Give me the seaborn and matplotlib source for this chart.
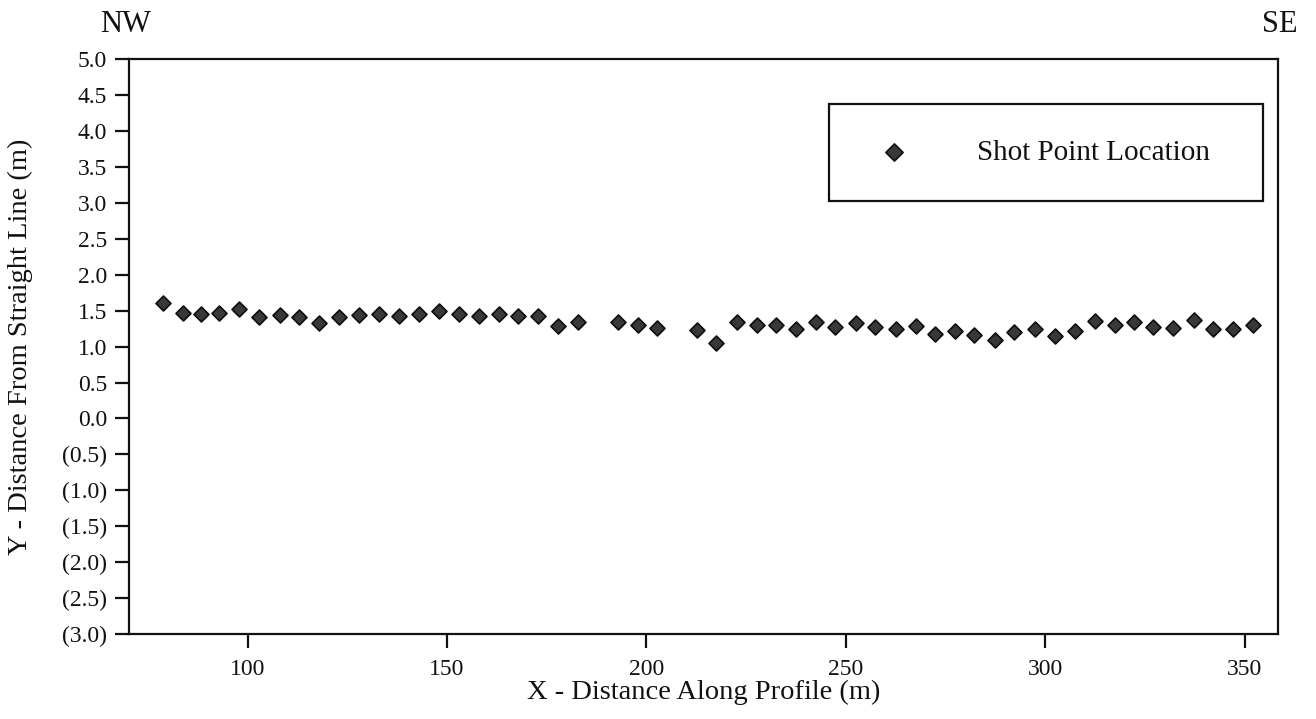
import numpy as np
import pandas as pd
import matplotlib
matplotlib.use("Agg")
import matplotlib.pyplot as plt
from matplotlib.ticker import FuncFormatter, FixedLocator
import seaborn as sns

# ---- data ----
x_dist = [78.8, 83.7, 88.3, 92.8, 97.8, 102.9, 108.1, 112.9, 117.9, 122.8,
          127.8, 132.9, 137.9, 143.0, 148.1, 153.0, 157.9, 162.9, 167.9, 172.8,
          177.9, 182.9, 192.9, 197.8, 202.7, 212.6, 217.5, 222.6, 227.7, 232.6,
          237.4, 242.5, 247.4, 252.5, 257.4, 262.6, 267.6, 272.5, 277.4, 282.2,
          287.4, 292.3, 297.5, 302.5, 307.5, 312.5, 317.4, 322.4, 327.1, 332.1,
          337.3, 342.2, 347.2, 352.2]
y_offset = [1.61, 1.47, 1.46, 1.47, 1.52, 1.41, 1.44, 1.41, 1.33, 1.41,
            1.44, 1.46, 1.43, 1.46, 1.49, 1.45, 1.42, 1.46, 1.43, 1.42,
            1.29, 1.35, 1.35, 1.30, 1.26, 1.23, 1.05, 1.35, 1.30, 1.30,
            1.25, 1.34, 1.28, 1.33, 1.27, 1.24, 1.29, 1.18, 1.22, 1.16,
            1.09, 1.20, 1.25, 1.15, 1.22, 1.36, 1.30, 1.35, 1.28, 1.26,
            1.37, 1.25, 1.25, 1.30]
x_ticks = [100, 150, 200, 250, 300, 350]
y_ticks = [5.0, 4.5, 4.0, 3.5, 3.0, 2.5, 2.0, 1.5, 1.0, 0.5, 0.0,
           -0.5, -1.0, -1.5, -2.0, -2.5, -3.0]
series_label = "Shot Point Location"
x_label = "X - Distance Along Profile (m)"
y_label = "Y - Distance From Straight Line (m)"
left_text, right_text = "NW", "SE"

df = pd.DataFrame({"x": x_dist, "y": y_offset})

sns.set_theme(style="white")
plt.rcParams["font.family"] = ["Liberation Serif", "DejaVu Serif"]
plt.rcParams["text.color"] = "#111111"

fig = plt.figure(figsize=(13.16, 7.19), dpi=100)
ax = fig.add_axes([0.09825, 0.11822, 0.87287, 0.7993])

sns.scatterplot(data=df, x="x", y="y", ax=ax, marker="D", s=58,
                color="#383838", edgecolor="#0d0d0d", linewidth=1.2,
                label=series_label, zorder=3)

ax.set_xlim(70.3, 358.4)
ax.set_ylim(-3.0, 5.0)
ax.xaxis.set_major_locator(FixedLocator(x_ticks))
ax.yaxis.set_major_locator(FixedLocator(y_ticks))

def yfmt(v, pos):
    if v < -1e-9:
        return f"({abs(v):.1f})"
    return f"{abs(v):.1f}"

ax.yaxis.set_major_formatter(FuncFormatter(yfmt))

for sp in ax.spines.values():
    sp.set_color("#111111")
    sp.set_linewidth(1.6)

ax.tick_params(axis="both", which="major", direction="out", length=10,
               width=1.6, color="#111111", labelsize=17, labelcolor="#111111")
ax.tick_params(axis="x", pad=8)
ax.tick_params(axis="y", pad=6)
ax.tick_params(left=True, bottom=True, top=False, right=False)

ax.set_xlabel(x_label, fontsize=20.5, color="#111111", labelpad=0)
ax.set_ylabel(y_label, fontsize=20.5, color="#111111")
ax.yaxis.set_label_coords(-0.0838, 0.5)

# legend
leg = ax.legend(loc="upper left",
                bbox_to_anchor=((829.3 - 129.3) / 1148.7, 0.0, (1262.7 - 829.3) / 1148.7,
                                1 - (104.3 - 59.3) / 574.7),
                mode="expand", frameon=True, fancybox=False, borderaxespad=0,
                fontsize=21, borderpad=1.2, handlelength=2.06, handletextpad=1.8,
                markerscale=1.15)
leg.get_frame().set_edgecolor("#111111")
leg.get_frame().set_linewidth(1.6)
leg.get_frame().set_alpha(1)

fig.text(100 / 1316, 1 - 25 / 719, left_text, ha="left", va="center",
         fontsize=22, color="#111111")
fig.text(1298 / 1316, 1 - 24 / 719, right_text, ha="right", va="center",
         fontsize=22, color="#111111")

fig.savefig("out.png", dpi=100, facecolor="white")
